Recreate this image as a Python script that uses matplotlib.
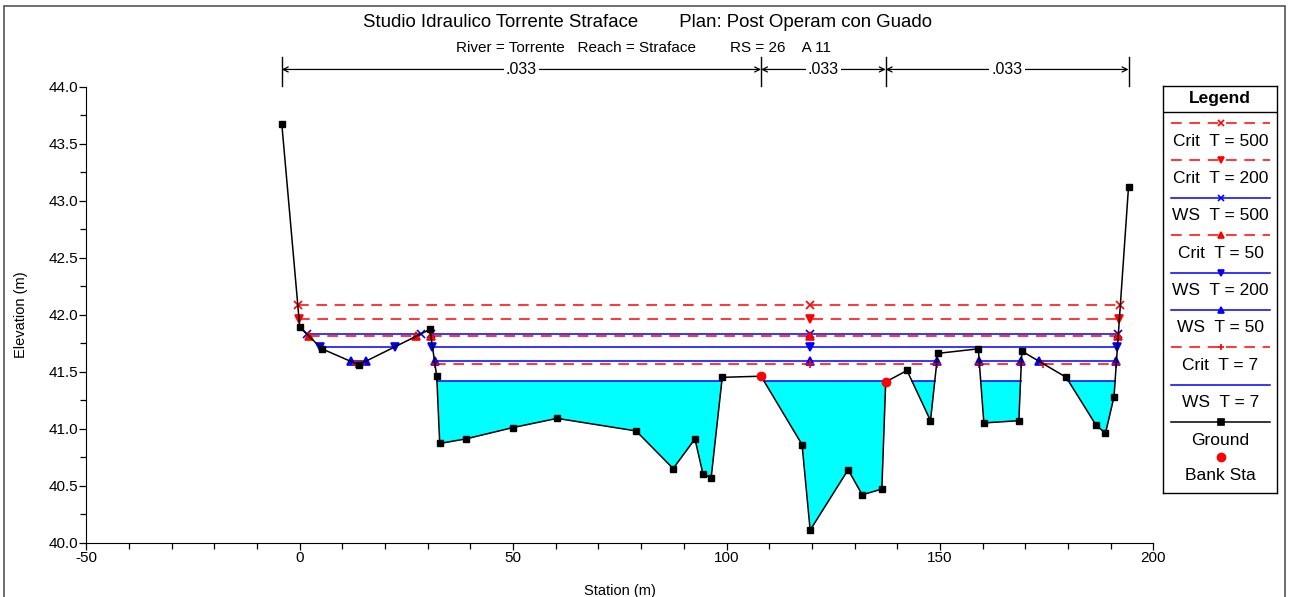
import numpy as np
import matplotlib
matplotlib.use('Agg')
import matplotlib.pyplot as plt
from matplotlib.patches import Rectangle

plt.rcParams['font.family'] = ['Liberation Sans', 'DejaVu Sans']
plt.rcParams['axes.unicode_minus'] = False

# --- data -------------------------------------------------------------
ground_x = [-4.2, 0.0, 5.2, 13.8, 30.5, 32.1, 32.8, 38.9, 50.0, 60.3, 78.8,
            87.5, 92.6, 94.5, 96.4, 99.0, 108.1, 117.7, 119.6, 128.5, 131.8,
            136.4, 137.3, 142.3, 147.8, 149.5, 159.0, 160.3, 168.5, 169.2,
            179.6, 186.6, 188.8, 190.8, 194.2]
ground_y = [43.67, 41.89, 41.70, 41.56, 41.87, 41.46, 40.87, 40.91, 41.01,
            41.09, 40.98, 40.65, 40.91, 40.60, 40.57, 41.45, 41.46, 40.86,
            40.11, 40.64, 40.42, 40.47, 41.41, 41.51, 41.07, 41.66, 41.70,
            41.05, 41.07, 41.68, 41.45, 41.03, 40.96, 41.28, 43.12]

bank_x = [108.1, 137.3]
bank_y = [41.46, 41.41]

# profiles, in legend order
prof_names = ['Crit  T = 500', 'Crit  T = 200', 'WS  T = 500', 'Crit  T = 50',
              'WS  T = 200', 'WS  T = 50', 'Crit  T = 7', 'WS  T = 7']
prof_levels = [42.08, 41.96, 41.83, 41.81, 41.72, 41.59, 41.57, 41.42]
prof_colors = ['red', 'red', 'blue', 'red', 'blue', 'blue', 'red', 'blue']
prof_ls = ['--', '--', '-', '--', '-', '-', '--', '-']
prof_markers = ['x', 'v', 'x', '^', 'v', '^', '+', None]

# Manning n zones
n_bounds = [-4.2, 108.1, 137.3, 194.2]
n_values = ['.033', '.033', '.033']

title = 'Studio Idraulico Torrente Straface        Plan: Post Operam con Guado'
subtitle = 'River = Torrente   Reach = Straface        RS = 26    A 11'


def wet_segments(level):
    """Tratti in cui il terreno sta sotto il livello (intersezioni interpolate)."""
    gx = np.asarray(ground_x)
    gy = np.asarray(ground_y)
    segs = []
    start = None
    for i in range(len(gx) - 1):
        x0, x1, y0, y1 = gx[i], gx[i + 1], gy[i], gy[i + 1]
        if y0 < level and start is None:
            start = x0
        if (y0 < level) != (y1 < level):
            xc = x0 + (level - y0) * (x1 - x0) / (y1 - y0)
            if start is None:
                start = xc
            else:
                segs.append((start, xc))
                start = None
    return segs


thalweg = ground_x[int(np.argmin(ground_y))]

# --- figure -----------------------------------------------------------
fig = plt.figure(figsize=(12.89, 5.97), dpi=100)
ax = fig.add_axes([0.067, 0.091, 0.8277, 0.764])
ax.set_xlim(-50, 200)
ax.set_ylim(40, 44)

# acqua per il WS piu' basso
ws7 = prof_levels[-1]
for a, b in wet_segments(ws7):
    xs = [a] + [x for x in ground_x if a < x < b] + [b]
    ys = np.interp(xs, ground_x, ground_y)
    ax.fill_between(xs, ys, ws7, color='cyan', lw=0, zorder=1)

for lev, col, ls, mk in zip(prof_levels, prof_colors, prof_ls, prof_markers):
    for a, b in wet_segments(lev):
        ax.plot([a, b], [lev, lev], color=col, ls=ls, lw=1.1,
                dashes=(7, 5) if ls == '--' else (None, None), zorder=3)
        if mk:
            mx = [a, b] + ([thalweg] if a < thalweg < b else [])
            ax.plot(mx, [lev] * len(mx), ls='none', marker=mk, color=col,
                    ms=6 if mk in ('x', '+') else 5.5, mew=1.2, zorder=4)

ax.plot(ground_x, ground_y, color='black', lw=1.1, marker='s', ms=5, zorder=5)
ax.plot(bank_x, bank_y, ls='none', marker='o', color='red', ms=6, zorder=6)

# Manning n dimension lines
dim_y = 44.15
for xb in n_bounds:
    ax.plot([xb, xb], [44.005, 44.26], color='black', lw=1, clip_on=False)
for i, nv in enumerate(n_values):
    x0, x1 = n_bounds[i], n_bounds[i + 1]
    ax.annotate('', xy=(x0, dim_y), xytext=(x1, dim_y),
                arrowprops=dict(arrowstyle='<->', lw=0.9, color='black',
                                shrinkA=0, shrinkB=0, mutation_scale=9),
                annotation_clip=False)
    ax.text((x0 + x1) / 2, dim_y, nv, ha='center', va='center', fontsize=11.5,
            bbox=dict(fc='white', ec='none', pad=1.5), clip_on=False)

for s in ['top', 'right']:
    ax.spines[s].set_visible(False)
ax.set_xticks(np.arange(-50, 201, 50))
ax.set_xticks(np.arange(-50, 201, 10), minor=True)
ax.set_yticks(np.arange(40, 44.01, 0.5))
ax.set_yticks(np.arange(40, 44.01, 0.25), minor=True)
ax.set_yticklabels([f'{v:.1f}' for v in np.arange(40, 44.01, 0.5)])
ax.tick_params(labelsize=11, length=5, width=0.9, pad=1)
ax.tick_params(which='minor', length=4, width=0.9)
ax.set_xlabel('Station (m)', fontsize=10.5, labelpad=14)
ax.set_ylabel('Elevation (m)', fontsize=10.5, labelpad=15)

fig.text(0.5025, 0.962, title, ha='center', va='center', fontsize=13.4)
fig.text(0.4995, 0.920, subtitle, ha='center', va='center', fontsize=11)

# cornice esterna
fig.patches.append(Rectangle((4 / 1289, -0.01), 1281 / 1289, 1 - 6 / 597 + 0.01,
                             transform=fig.transFigure, fill=False,
                             ec='#555555', lw=1.2))

# --- legenda disegnata a mano -----------------------------------------
lx0, lx1, ly0, ly1 = 1162.5, 1277, 86, 493
lax = fig.add_axes([lx0 / 1289, 1 - ly1 / 597, (lx1 - lx0) / 1289, (ly1 - ly0) / 597])
lax.set_xlim(lx0, lx1)
lax.set_ylim(ly1, ly0)
lax.set_xticks([])
lax.set_yticks([])
for s in lax.spines.values():
    s.set_linewidth(1.0)
lax.text((lx0 + lx1) / 2, 98, 'Legend', ha='center', va='center',
         fontsize=12.5, fontweight='bold')
lax.plot([lx0, lx1], [112, 112], color='black', lw=1)

entries = list(zip(prof_names, prof_colors, prof_ls, prof_markers))
entries.append(('Ground', 'black', '-', 's'))
for i, (name, col, ls, mk) in enumerate(entries):
    yl = 123 + 37.4 * i
    lax.plot([1171, 1270], [yl, yl], color=col, ls=ls, lw=1.1,
             dashes=(7, 5) if ls == '--' else (None, None))
    if mk:
        lax.plot([1220.5], [yl], marker=mk, color=col, ls='none',
                 ms=5 if mk in ('x', '+') else 4.5, mew=1.2)
    lax.text(1220.5, yl + 18, name, ha='center', va='center', fontsize=12.5)
lax.plot([1220.5], [457], marker='o', color='red', ms=6, ls='none')
lax.text(1220.5, 476, 'Bank Sta', ha='center', va='center', fontsize=12.5)

fig.savefig('out.png', dpi=100)
